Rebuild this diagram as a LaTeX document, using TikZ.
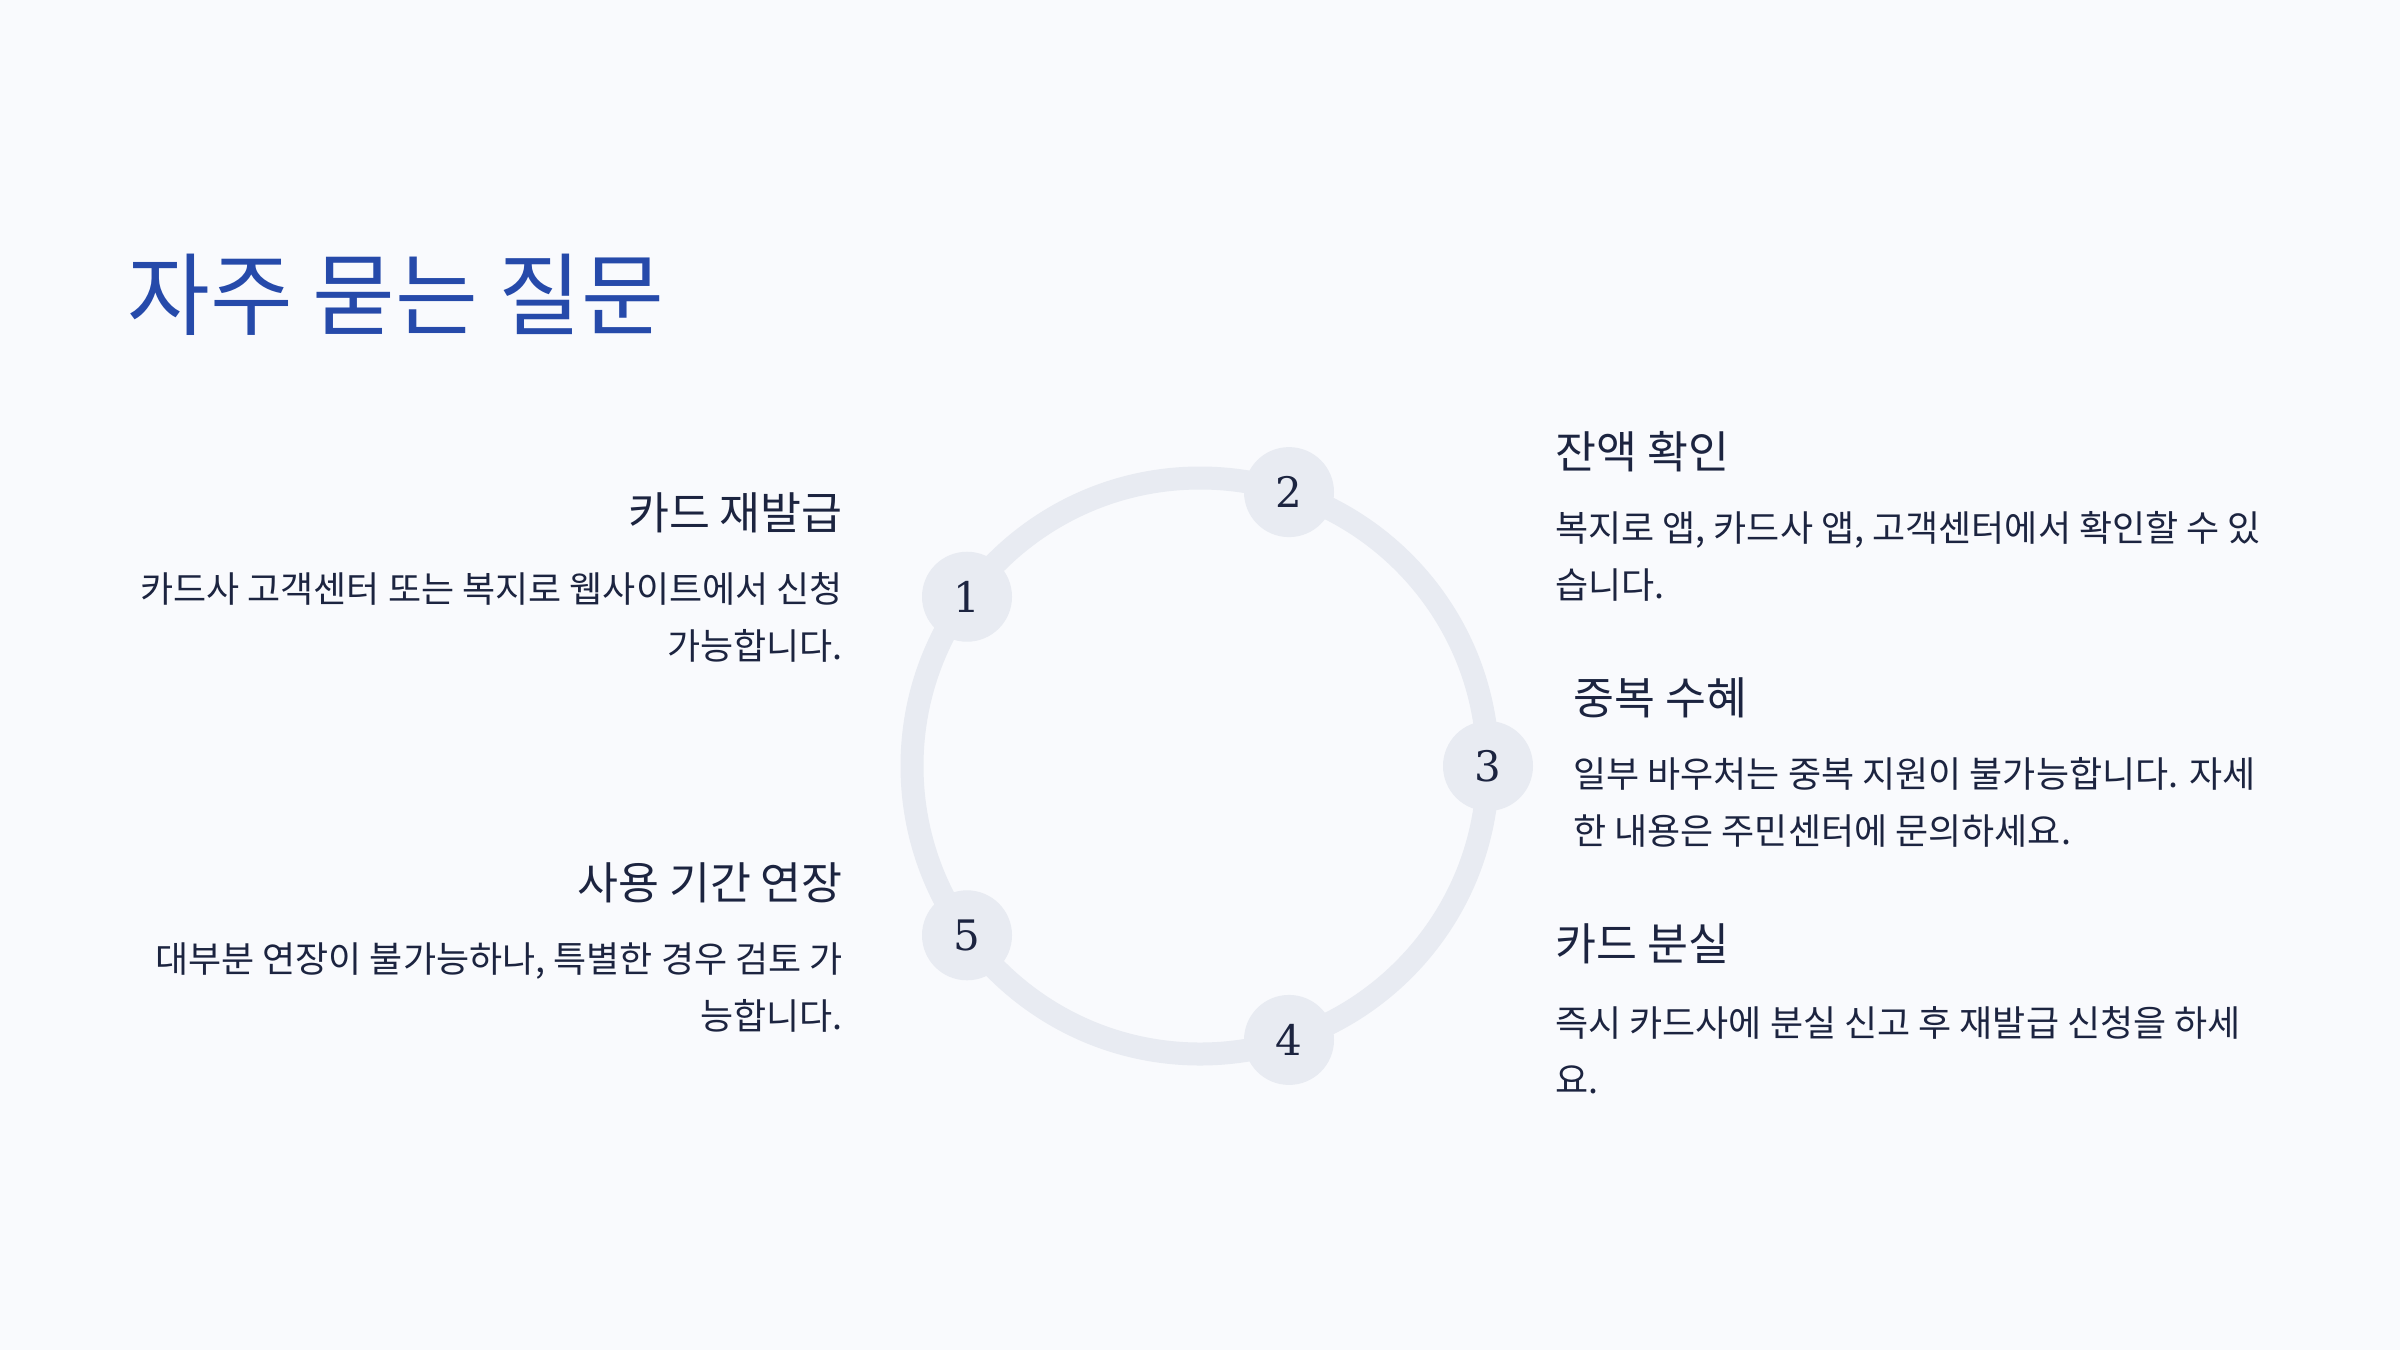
\documentclass[tikz,border=0pt]{standalone}
\usepackage{fontspec}
\setmainfont{Noto Sans CJK KR}
\newfontfamily\numfont{DejaVu Serif}

\begin{document}
\begin{tikzpicture}[x=1pt,y=-1pt,
    ringnode/.style={circle, fill=ringcolor, minimum size=90pt, inner sep=0pt,
        text=inkcolor, font=\numfont\fontsize{42}{42}\selectfont},
    headtext/.style={inner sep=0pt, text=inkcolor, font=\fontsize{44.5}{52}\selectfont},
    bodytext/.style={inner sep=0pt, text=inkcolor, font=\fontsize{36}{57}\selectfont}]
        % -- colour definitions --------------------------------------------------
        \definecolor{bgcolor}{RGB}{249,250,253}
        \definecolor{ringcolor}{RGB}{232,235,242}
        \definecolor{inkcolor}{RGB}{28,36,64}
        \definecolor{titlecolor}{RGB}{38,74,170}

        % -- page ----------------------------------------------------------------
        \fill[bgcolor] (0,0) rectangle (2400,1350);
        \useasboundingbox (0,0) rectangle (2400,1350);

        % -- title ---------------------------------------------------------------
        \node[anchor=west, inner sep=0pt, text=titlecolor,
              font=\fontsize{90}{98}\selectfont] (title) at (127,295) {자주 묻는 질문};

        % -- ring with numbered points -------------------------------------------
        \coordinate (ctr) at (1200,766);
        \draw[ringcolor, line width=23pt] (ctr) circle (288pt);
        \foreach \i/\ang in {1/144, 2/72, 3/0, 4/288, 5/216} {
            \node[ringnode] (n\i) at ([shift={(\ang:288pt)}]ctr) {\i};
        }

        % -- left column ---------------------------------------------------------
        \node[headtext, anchor=east] (h1) at (843,513) {카드 재발급};
        \node[bodytext, anchor=east, align=right] (b1) at (843,617)
            {카드사 고객센터 또는 복지로 웹사이트에서 신청\\가능합니다.};
        \node[headtext, anchor=east] (h5) at (843,883) {사용 기간 연장};
        \node[bodytext, anchor=east, align=right] (b5) at (843,988)
            {대부분 연장이 불가능하나, 특별한 경우 검토 가\\능합니다.};

        % -- right column --------------------------------------------------------
        \node[headtext, anchor=west] (h2) at (1555,452) {잔액 확인};
        \node[bodytext, anchor=west, align=left] (b2) at (1555,556)
            {복지로 앱, 카드사 앱, 고객센터에서 확인할 수 있\\습니다.};
        \node[headtext, anchor=west] (h3) at (1573,698) {중복 수혜};
        \node[bodytext, anchor=west, align=left] (b3) at (1573,802)
            {일부 바우처는 중복 지원이 불가능합니다. 자세\\한 내용은 주민센터에 문의하세요.};
        \node[headtext, anchor=west] (h4) at (1555,944) {카드 분실};
        \node[bodytext, anchor=west, align=left] (b4) at (1555,1050)
            {즉시 카드사에 분실 신고 후 재발급 신청을 하세\\요.};
    \end{tikzpicture}
\end{document}
